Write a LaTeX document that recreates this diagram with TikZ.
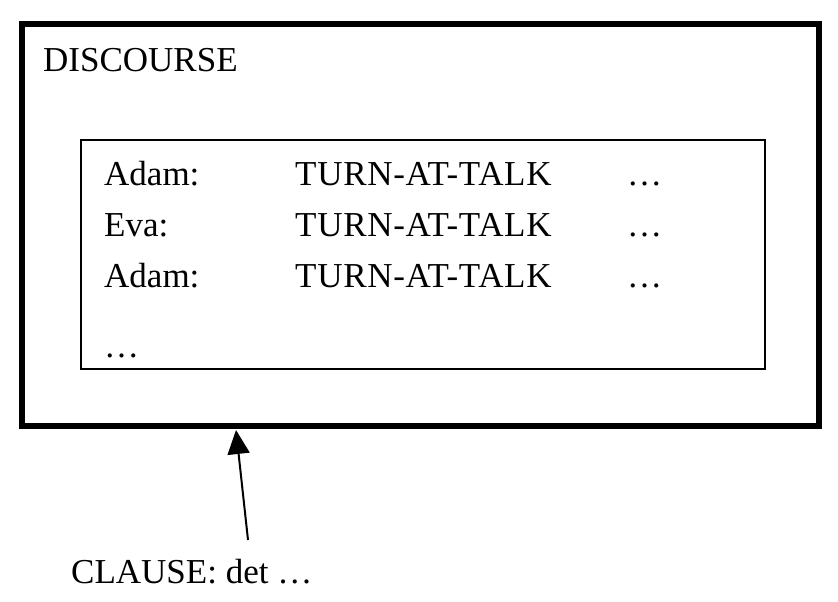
\documentclass[tikz,border=0pt]{standalone}
\usepackage{fontspec}
\setmainfont{Liberation Serif}
\usetikzlibrary{arrows.meta}
\begin{document}
\begin{tikzpicture}[x=1pt,y=-1pt,
  txt/.style={anchor=base west,inner sep=0pt,font=\fontsize{35}{40}\selectfont},
  outerbox/.style={draw,line width=6.5pt},
  innerbox/.style={draw,line width=2pt}]
\useasboundingbox (0,0) rectangle (838,602);
\draw[outerbox] (22,24) coordinate (o1) rectangle (819,426) coordinate (o2);
\draw[innerbox] (81,140) coordinate (i1) rectangle (765,369) coordinate (i2);
\node[txt] (disc) at (43,72) {DISCOURSE};
\node[txt] (n1) at (104,185) {Adam:};
\node[txt] (n2) at (104,236) {Eva:};
\node[txt] (n3) at (104,287) {Adam:};
\node[txt] (n4) at (104,357) {…};
\node[txt] (t1) at (295,185) {\addfontfeature{LetterSpace=2}TURN-AT-TALK};
\node[txt] (t2) at (295,236) {\addfontfeature{LetterSpace=2}TURN-AT-TALK};
\node[txt] (t3) at (295,287) {\addfontfeature{LetterSpace=2}TURN-AT-TALK};
\node[txt] (d1) at (627,185) {…};
\node[txt] (d2) at (627,236) {…};
\node[txt] (d3) at (627,287) {…};
\node[txt] (clause) at (71,583) {CLAUSE: det …};
\coordinate (tail) at (248,540);
\coordinate (tip) at (236,430);
\draw[line width=2pt,-{Triangle[length=24pt,width=22pt]}] (tail) -- (tip);
\end{tikzpicture}
\end{document}
